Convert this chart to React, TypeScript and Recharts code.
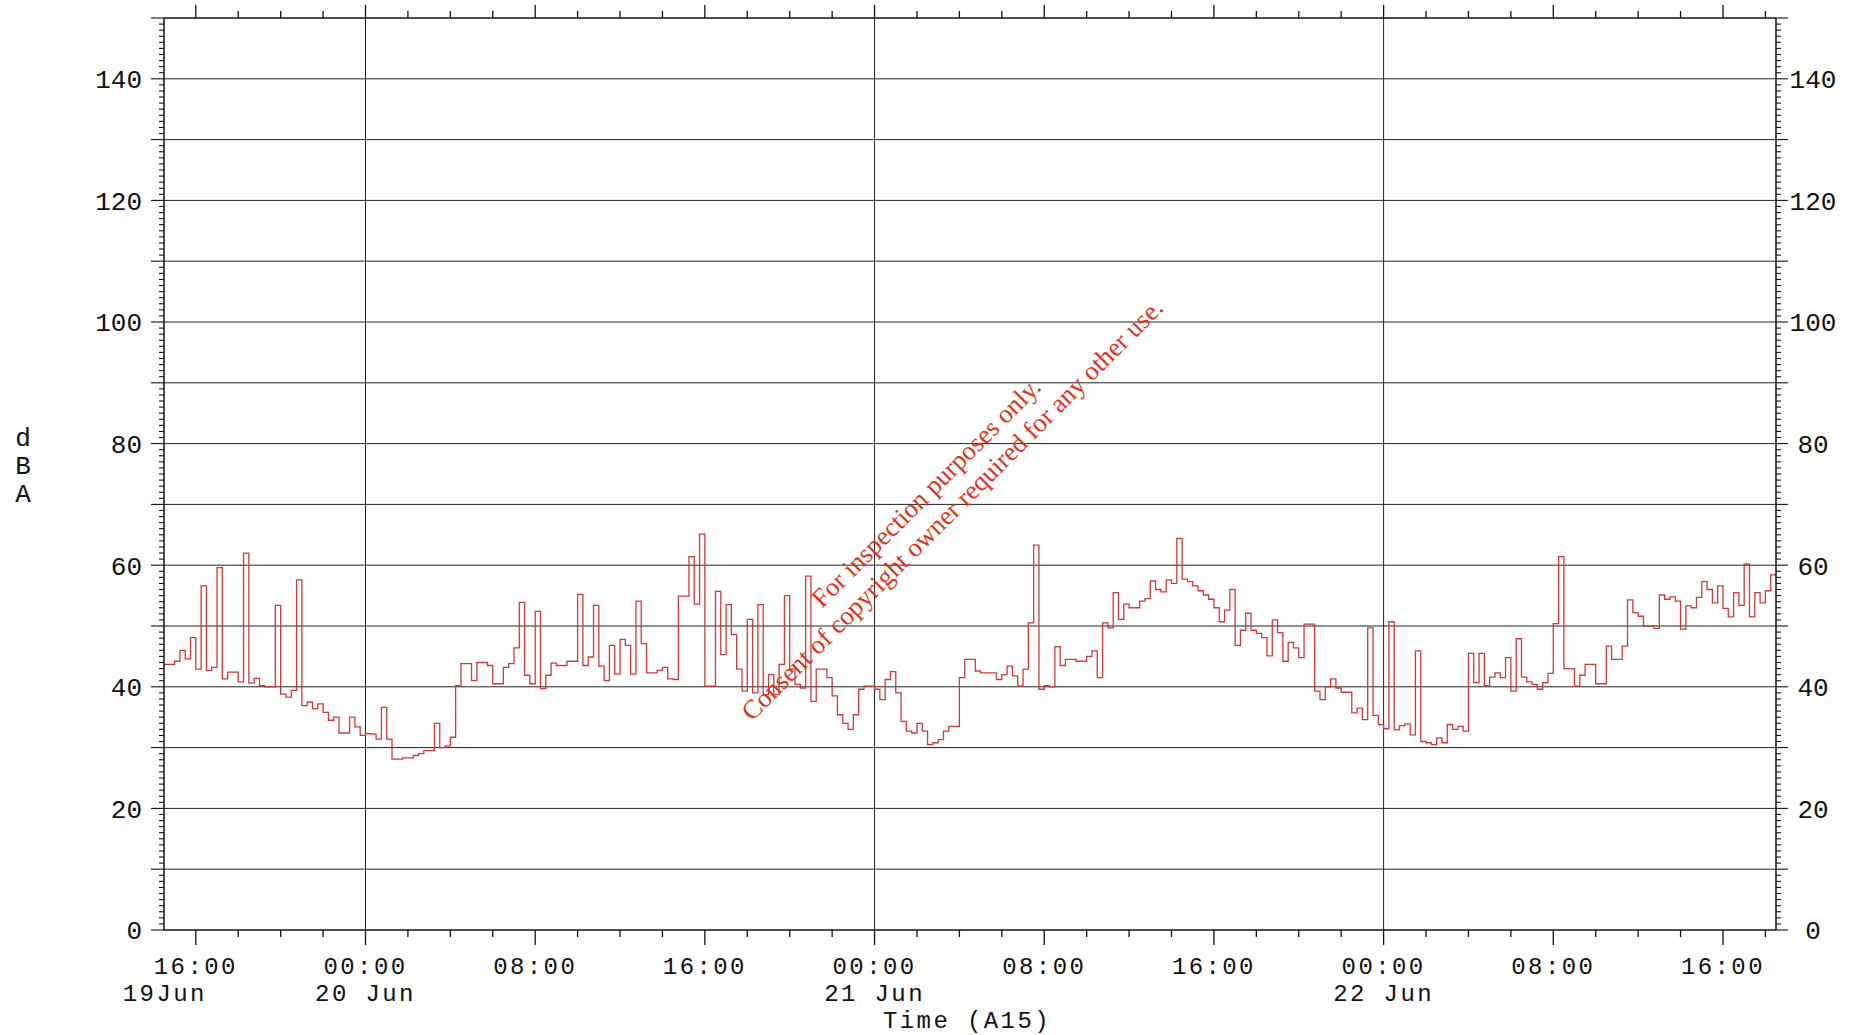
import React from 'react';
import { LineChart, Line, XAxis, YAxis, ReferenceLine } from 'recharts';

// 15-minute dBA levels, first sample 19 Jun 14:30, one row = 2 hours
const levels: number[] = [
  43.7, 43.7, 44.2, 46, 44.6, 48.1, 42.9, 56.6,
  42.7, 43.2, 59.6, 41.3, 42.4, 42.4, 40.8, 62,
  40.6, 41.4, 40.2, 40, 40, 53.4, 38.8, 38.3,
  39.4, 57.6, 36.9, 37.5, 36.4, 37.2, 35.8, 34.5,
  35, 32.4, 32.4, 35, 33.4, 32, 32.3, 32.2,
  31.4, 36.6, 31.4, 28.1, 28.1, 28.3, 28.3, 28.7,
  29, 29.5, 29.5, 34, 30, 30.3, 31.7, 40.2,
  43.8, 43.8, 41, 44, 44, 43.5, 40.5, 40.5,
  43.2, 43.8, 46.4, 53.9, 41.9, 40.5, 52.4, 39.7,
  41.9, 43.9, 43.5, 43.5, 44.2, 44.2, 55.2, 43.5,
  44.9, 53.4, 43.4, 41, 46.8, 42.1, 47.8, 46.8,
  42.1, 54.1, 47.1, 42.3, 42.3, 42.7, 43.2, 41.3,
  41.2, 54.9, 54.9, 61.4, 53.6, 65.1, 40.1, 40.1,
  55.7, 45.3, 53.5, 48.6, 42.9, 39.3, 51.1, 39,
  53.5, 38.7, 42, 38.7, 43.7, 55, 42.9, 40.4,
  39.8, 58.2, 37.6, 42.9, 42.9, 41.5, 38.5, 35.4,
  34, 33, 35.4, 39.6, 40.1, 40.1, 39.6, 37.9,
  41.2, 42.5, 39, 34.3, 32.7, 32.4, 34, 32.7,
  30.5, 30.8, 31.3, 32.7, 33.5, 33.5, 41.5, 44.5,
  44.5, 42.6, 42.3, 42.3, 42.3, 41.2, 42, 43.4,
  41.8, 40.1, 42.9, 50.5, 63.3, 39.6, 40.2, 40,
  46.6, 43.5, 44.5, 44.5, 44.2, 44.2, 45, 45.9,
  41.5, 50.5, 49.7, 55.5, 51.1, 53.6, 53, 53,
  54.1, 54.5, 57.4, 56, 55.6, 57.6, 57, 64.4,
  57.7, 57.3, 56.6, 55.8, 55.1, 54.4, 53, 50.7,
  52.6, 56, 46.8, 49.3, 52.1, 49.3, 48.8, 48.1,
  45.1, 51, 48.9, 44.2, 47.3, 46.4, 44.8, 50.3,
  50.3, 39.3, 37.9, 40, 41.3, 39.8, 39.1, 39.1,
  35.7, 36.5, 34.6, 49.7, 35.3, 33.8, 33.1, 50.7,
  32.9, 33.6, 33.9, 32.1, 45.9, 31, 30.8, 30.5,
  31.6, 30.8, 33.8, 33, 33.5, 32.7, 45.5, 40.7,
  45.5, 40.2, 41.6, 42.3, 41.5, 44.8, 39.3, 47.9,
  41.6, 40.8, 40.4, 39.6, 40.7, 42.2, 50.4, 61.4,
  43, 43, 40.1, 41.9, 43.7, 43.7, 40.5, 40.5,
  46.7, 44.5, 44.5, 46.7, 54.3, 52.2, 51.6, 50,
  50, 49.6, 55.1, 54.4, 54.8, 54.1, 49.5, 53.3,
  53, 54.7, 57.3, 56, 53.8, 56.6, 52.9, 51.5,
  55.5, 53.4, 60.2, 51.5, 55.5, 53.8, 55.8, 58.4,
];

// hours relative to 20 Jun 00:00
const startHour = -9.5;
const stepHours = 0.25;
const endHour = 66.5;

const majorHours = [-8, 0, 8, 16, 24, 32, 40, 48, 56, 64];
const timeLabels = ['16:00', '00:00', '08:00', '16:00', '00:00', '08:00', '16:00', '00:00', '08:00', '16:00'];
const dateHours = [-8, 0, 24, 48];
const dateLabels = ['19Jun', '20 Jun', '21 Jun', '22 Jun'];
const midnightHours = [0, 24, 48];

const yLabelValues = [0, 20, 40, 60, 80, 100, 120, 140];
const gridValues = [10, 20, 30, 40, 50, 60, 70, 80, 90, 100, 110, 120, 130, 140];

const xTicks = Array.from({ length: 38 }, (_, k) => -8 + 2 * k);
const yTicks = Array.from({ length: 151 }, (_, k) => k);

const data = levels
  .map((v, i) => ({ t: startHour + i * stepHours, v }))
  .concat([{ t: endHour, v: levels[levels.length - 1] }]);

const INK = '#111';
const MONO = "'Liberation Mono', 'DejaVu Sans Mono', monospace";

const BottomTick = ({ x, y, payload }: any) => {
  const h = Math.round(payload.value);
  const mi = majorHours.indexOf(h);
  const di = dateHours.indexOf(h);
  return (
    <g>
      <line x1={x} x2={x} y1={y} y2={y + (mi >= 0 ? 15 : 7)} stroke={INK} strokeWidth={1.3} />
      {mi >= 0 && (
        <text x={x} y={y + 44} textAnchor="middle" fontFamily={MONO} fontSize={24} letterSpacing={2.4} fill={INK}>
          {timeLabels[mi]}
        </text>
      )}
      {di >= 0 && (
        <text x={di === 0 ? x - 31 : x} y={y + 71} textAnchor="middle" fontFamily={MONO} fontSize={24} letterSpacing={2.4} fill={INK}>
          {dateLabels[di]}
        </text>
      )}
    </g>
  );
};

const TopTick = ({ x, y, payload }: any) => {
  const h = Math.round(payload.value);
  const major = majorHours.includes(h);
  return <line x1={x} x2={x} y1={y} y2={y - (major ? 13 : 7)} stroke={INK} strokeWidth={1.3} />;
};

const LeftTick = ({ x, y, payload }: any) => {
  const v = Math.round(payload.value);
  const major = v % 10 === 0;
  return (
    <g>
      <line x1={x - (major ? 13 : 5)} x2={x} y1={y} y2={y} stroke={INK} strokeWidth={1.1} />
      {yLabelValues.includes(v) && (
        <text x={x - 22} y={y} dy="0.36em" textAnchor="end" fontFamily={MONO} fontSize={26} fill={INK}>
          {v}
        </text>
      )}
    </g>
  );
};

const RightTick = ({ x, y, payload }: any) => {
  const v = Math.round(payload.value);
  const major = v % 10 === 0;
  return (
    <g>
      <line x1={x} x2={x + (major ? 12 : 5)} y1={y} y2={y} stroke={INK} strokeWidth={1.1} />
      {yLabelValues.includes(v) && (
        <text x={x + 37} y={y} dy="0.36em" textAnchor="middle" fontFamily={MONO} fontSize={26} fill={INK}>
          {v}
        </text>
      )}
    </g>
  );
};

export default function App() {
  return (
    <div style={{ position: 'fixed', left: 0, top: 0, width: 1850, height: 1035, background: '#fff' }}>
      <LineChart width={1850} height={1035} data={data} margin={{ top: 17, right: 0, bottom: 0, left: 0 }}>
        <XAxis
          dataKey="t"
          type="number"
          domain={[startHour, endHour]}
          allowDataOverflow
          ticks={xTicks}
          interval={0}
          height={105}
          tickSize={0}
          tickMargin={0}
          tickLine={false}
          axisLine={{ stroke: INK, strokeWidth: 1.5 }}
          tick={<BottomTick />}
        />
        <XAxis
          xAxisId="top"
          orientation="top"
          dataKey="t"
          type="number"
          domain={[startHour, endHour]}
          allowDataOverflow
          ticks={xTicks}
          interval={0}
          height={1}
          tickSize={0}
          tickMargin={0}
          tickLine={false}
          axisLine={{ stroke: INK, strokeWidth: 1.5 }}
          tick={<TopTick />}
        />
        <YAxis
          type="number"
          domain={[0, 150]}
          ticks={yTicks}
          interval={0}
          width={164}
          tickSize={0}
          tickMargin={0}
          tickLine={false}
          axisLine={{ stroke: INK, strokeWidth: 1.5 }}
          tick={<LeftTick />}
        />
        <YAxis
          yAxisId="right"
          orientation="right"
          type="number"
          domain={[0, 150]}
          ticks={yTicks}
          interval={0}
          width={74}
          tickSize={0}
          tickMargin={0}
          tickLine={false}
          axisLine={{ stroke: INK, strokeWidth: 1.5 }}
          tick={<RightTick />}
        />
        {gridValues.map((g) => (
          <ReferenceLine key={`g${g}`} y={g} stroke="#222" strokeWidth={1} />
        ))}
        {midnightHours.map((h) => (
          <ReferenceLine key={`m${h}`} x={h} stroke="#222" strokeWidth={1} />
        ))}
        <Line
          dataKey="v"
          type="stepAfter"
          stroke="#cc3b3b"
          strokeWidth={1.3}
          dot={false}
          isAnimationActive={false}
        />
        <Line
          yAxisId="right"
          xAxisId="top"
          dataKey="v"
          type="stepAfter"
          stroke="none"
          dot={false}
          legendType="none"
          isAnimationActive={false}
        />
      </LineChart>
      <svg width={1850} height={1035} style={{ position: 'absolute', left: 0, top: 0, pointerEvents: 'none' }}>
        <text x={23} y={437} textAnchor="middle" fontFamily={MONO} fontSize={26} fill={INK}>
          <tspan x={23} dy="0.36em">d</tspan>
          <tspan x={23} dy={28}>B</tspan>
          <tspan x={23} dy={28}>A</tspan>
        </text>
        <text x={967} y={1028} textAnchor="middle" fontFamily={MONO} fontSize={24} letterSpacing={2.4} fill={INK}>
          Time (A15)
        </text>
        <g fontFamily="'Liberation Serif', 'DejaVu Serif', serif" fontSize={26.5} fill="#dd3322">
          <text x={822} y={609} transform="rotate(-45 822 609)">For inspection purposes only.</text>
          <text x={752} y={722} transform="rotate(-45 752 722)">Consent of copyright owner required for any other use.</text>
        </g>
      </svg>
    </div>
  );
}
